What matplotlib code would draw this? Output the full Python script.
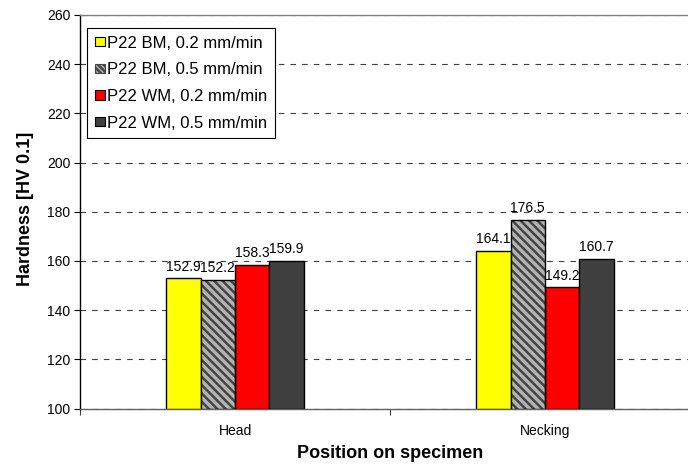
import matplotlib
matplotlib.use("Agg")
import matplotlib.pyplot as plt
import numpy as np
from matplotlib.patches import Patch

plt.rcParams['font.family'] = ['Liberation Sans', 'DejaVu Sans']
plt.rcParams['hatch.linewidth'] = 1.8

categories = ["Head", "Necking"]
series_names = ["P22 BM, 0.2 mm/min", "P22 BM, 0.5 mm/min",
                "P22 WM, 0.2 mm/min", "P22 WM, 0.5 mm/min"]
values = [
    [152.9, 164.1],
    [152.2, 176.5],
    [158.3, 149.2],
    [159.9, 160.7],
]
colors = ["#FFFF00", "#B4B4B4", "#FF0000", "#404040"]
hatches = [None, "\\\\\\\\", None, None]
yticks = [100, 120, 140, 160, 180, 200, 220, 240, 260]

fig = plt.figure(figsize=(6.88, 4.66), dpi=100)
ax = fig.add_axes([80/688, 1-408.5/466, 620/688, (408.5-15)/466])

x = np.arange(len(categories))
w = 0.111
handles = []
for i, (name, vals) in enumerate(zip(series_names, values)):
    pos = x + (i - 1.5) * w
    bottoms = [100] * len(vals)
    heights = [v - 100 for v in vals]
    if hatches[i]:
        ax.bar(pos, heights, w, bottom=bottoms, color=colors[i], hatch=hatches[i],
               edgecolor="#454545", linewidth=0, zorder=3)
        ax.bar(pos, heights, w, bottom=bottoms, fill=False, edgecolor="black",
               linewidth=1.0, zorder=4)
        handles.append(Patch(facecolor=colors[i], hatch="\\\\\\\\\\\\", edgecolor="#454545",
                             linewidth=0.8, label=name))
    else:
        ax.bar(pos, heights, w, bottom=bottoms, color=colors[i], edgecolor="black",
               linewidth=1.0, zorder=3)
        handles.append(Patch(facecolor=colors[i], edgecolor="black", linewidth=0.8, label=name))
    for p, v in zip(pos, vals):
        ax.annotate(f"{v:.1f}", (p, v), xytext=(0, 3.5), textcoords="offset points",
                    ha="center", va="bottom", fontsize=10, zorder=5)

ax.set_ylim(100, 260)
ax.set_xlim(-0.5, len(categories) - 0.5)
ax.set_yticks(yticks)
ax.yaxis.grid(True, linestyle=(0, (5, 5.5)), color="#404040", linewidth=0.8, zorder=0)
ax.set_axisbelow(True)

ax.set_xticks(x)
ax.set_xticklabels(categories, fontsize=10)
ax.tick_params(axis="x", length=0, pad=11)
ax.set_xticks([-0.5, 0.5, 1.5], minor=True)
ax.tick_params(axis="x", which="minor", length=4, color="#404040", width=0.8)
ax.tick_params(axis="y", labelsize=10, length=4, width=0.8, pad=3)

ax.spines["right"].set_visible(False)
ax.spines["top"].set_color("#808080")
ax.spines["top"].set_linewidth(1.0)
ax.spines["bottom"].set_color("#606060")
ax.spines["bottom"].set_linewidth(1.0)
ax.spines["left"].set_color("black")
ax.spines["left"].set_linewidth(1.0)

ax.set_xlabel("Position on specimen", fontsize=13, fontweight="bold", va="top")
ax.xaxis.set_label_coords(0.5, (408.5 - 445) / 393.5)
ax.set_ylabel("Hardness [HV 0.1]", fontsize=13, fontweight="bold")
ax.yaxis.set_label_coords((34 - 80) / 620, (408.5 - 208.5) / 393.5)

leg = ax.legend(handles=handles, loc="upper left", bbox_to_anchor=(7/620, 1 - 13/393.5),
                fontsize=12, frameon=True, fancybox=False, edgecolor="black",
                handlelength=0.6, handleheight=0.5, handletextpad=0.15,
                labelspacing=0.7, borderpad=0.45, borderaxespad=0, framealpha=1)
leg.get_frame().set_linewidth(0.8)
leg.set_zorder(10)

fig.savefig("out.png", dpi=100)
